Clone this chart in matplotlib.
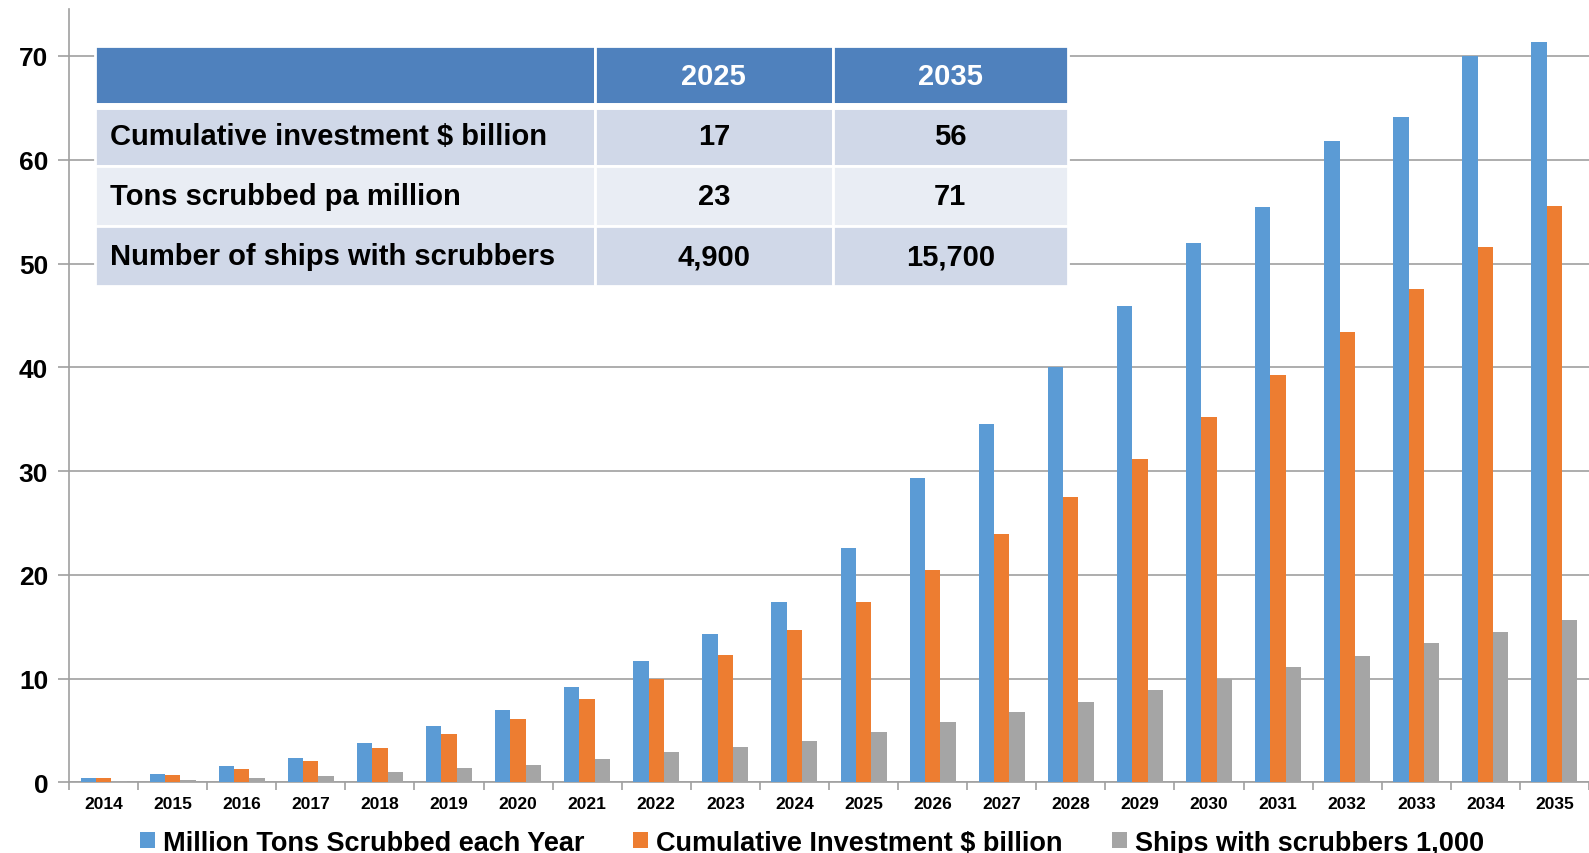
import matplotlib.pyplot as plt
import numpy as np

plt.rcParams['font.family'] = ['Liberation Sans', 'DejaVu Sans']
plt.rcParams['font.weight'] = 'bold'

# Scrubber outlook by year
years = [str(y) for y in range(2014, 2036)]
tons = [0.4, 0.8, 1.6, 2.4, 3.8, 5.4, 7.0, 9.2, 11.7, 14.3, 17.4,
        22.6, 29.3, 34.5, 40.0, 45.9, 52.0, 55.4, 61.8, 64.1, 70.0, 71.3]
investment = [0.4, 0.7, 1.3, 2.1, 3.3, 4.7, 6.1, 8.0, 10.0, 12.3, 14.7,
              17.4, 20.5, 23.9, 27.5, 31.2, 35.2, 39.3, 43.4, 47.5, 51.6, 55.5]
ships = [0.15, 0.25, 0.4, 0.65, 1.0, 1.35, 1.7, 2.3, 2.9, 3.4, 4.0,
         4.9, 5.8, 6.8, 7.8, 8.9, 10.0, 11.1, 12.2, 13.4, 14.5, 15.7]

series_names = ['Million Tons Scrubbed each Year',
                'Cumulative Investment $ billion',
                'Ships with scrubbers 1,000']
series_colors = ['#5B9BD5', '#ED7D31', '#A5A5A5']

# Summary table
table_cols = ['', '2025', '2035']
table_rows = ['Cumulative investment $ billion',
              'Tons scrubbed pa million',
              'Number of ships with scrubbers']
table_2025 = ['17', '23', '4,900']
table_2035 = ['56', '71', '15,700']

fig = plt.figure(figsize=(15.89, 8.54), dpi=100)
ax = fig.add_axes([0.0434, 0.0826, 0.9566, 0.9054])

x = np.arange(len(years))
w = 0.222
for i, (vals, name, col) in enumerate(zip([tons, investment, ships], series_names, series_colors)):
    ax.bar(x + (i - 1) * w, vals, width=w, color=col, label=name, zorder=3)

ax.set_xlim(-0.5, len(years) - 0.5)
ax.set_ylim(0, 74.5)
ax.set_yticks(range(0, 71, 10))
ax.yaxis.grid(True, color='#A0A0A0', linewidth=1.2, zorder=0)

ax.set_xticks(x)
ax.set_xticklabels(years, fontsize=12.5, fontweight='bold')
ax.set_xticks(np.arange(-0.5, len(years), 1), minor=True)
ax.tick_params(axis='x', which='major', length=0, pad=10)
ax.tick_params(axis='x', which='minor', length=6, color='#A0A0A0', width=1.2)
ax.tick_params(axis='y', length=8, color='#A0A0A0', width=1.2, labelsize=19, pad=7)
for lab in ax.get_yticklabels():
    lab.set_fontweight('bold')

for side in ['top', 'right']:
    ax.spines[side].set_visible(False)
for side in ['left', 'bottom']:
    ax.spines[side].set_color('#A0A0A0')
    ax.spines[side].set_linewidth(1.2)

# Table overlay
tx, ty, tw, th = 0.0171, 0.642, 0.640, 0.310
cell_text = [[r, a, b] for r, a, b in zip(table_rows, table_2025, table_2035)]
tbl = ax.table(cellText=cell_text, colLabels=table_cols,
               colWidths=[500, 238, 235], cellLoc='center',
               bbox=[tx, ty, tw, th], zorder=5)
tbl.auto_set_font_size(False)
tbl.set_fontsize(21)
row_colors = ['#D0D8E8', '#E9EDF4', '#D0D8E8']
for (r, c), cell in tbl.get_celld().items():
    cell.set_edgecolor('white')
    cell.set_linewidth(2)
    txt = cell.get_text()
    txt.set_fontweight('bold')
    if r == 0:
        cell.set_facecolor('#4F81BD')
        txt.set_color('white')
        txt.set_fontsize(21)
    else:
        cell.set_facecolor(row_colors[r - 1])
        txt.set_color('black')
    if c == 0 and r > 0:
        cell.PAD = 0.03
        txt.set_horizontalalignment('left')
        cell._loc = 'left'

# wider white gap under the header row
hy = ty + th * 3 / 4
ax.plot([tx, tx + tw], [hy, hy], transform=ax.transAxes, color='white',
        linewidth=5, zorder=6, solid_capstyle='butt')

fig.legend(loc='center', bbox_to_anchor=(0.511, 0.012), ncol=3, frameon=False,
           prop={'size': 19.5, 'weight': 'bold'}, handlelength=0.55, handleheight=0.55,
           handletextpad=0.3, columnspacing=1.8)

fig.savefig('out.png', dpi=100)
